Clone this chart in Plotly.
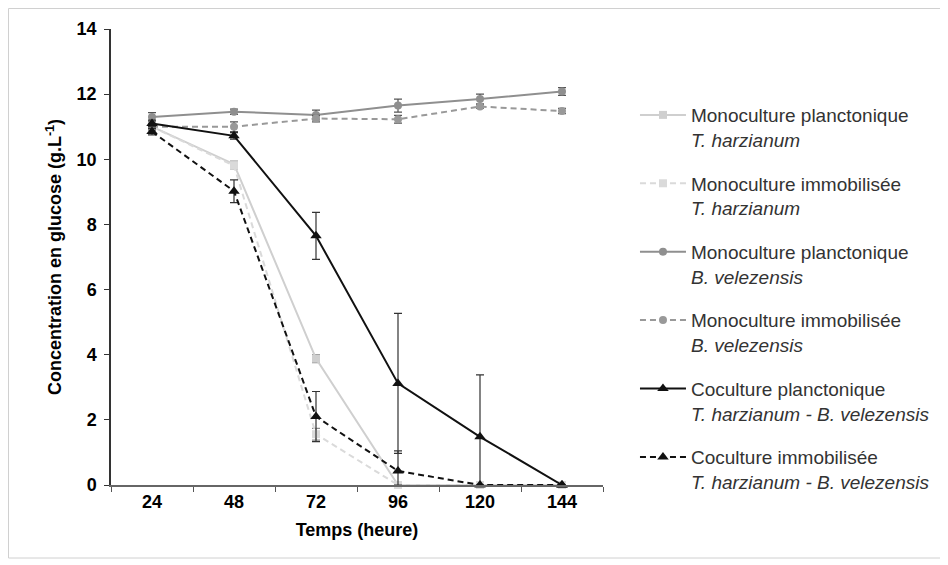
import numpy as np
import plotly.graph_objects as go

# === Données ===
temps = ["24", "48", "72", "96", "120", "144"]

mono_plancto_th = [11.0, 9.85, 3.88, 0.0, 0.0, 0.0]
mono_plancto_th_err = [0.1, 0.1, 0.12, 0.0, 0.0, 0.0]

mono_immob_th = [11.0, 9.8, 1.56, 0.0, 0.0, 0.0]
mono_immob_th_err = [0.1, 0.1, 0.18, 0.0, 0.0, 0.0]

mono_plancto_bv = [11.3, 11.46, 11.36, 11.65, 11.85, 12.08]
mono_plancto_bv_err = [0.13, 0.08, 0.15, 0.2, 0.15, 0.12]

mono_immob_bv = [11.0, 11.0, 11.25, 11.23, 11.62, 11.48]
mono_immob_bv_err = [0.1, 0.15, 0.1, 0.12, 0.06, 0.08]

cocult_plancto = [11.1, 10.72, 7.65, 3.12, 1.48, 0.0]
cocult_plancto_err = [0.1, 0.1, 0.72, 2.15, 1.9, 0.0]

cocult_immob = [10.85, 9.02, 2.1, 0.43, 0.0, 0.0]
cocult_immob_err = [0.1, 0.35, 0.77, 0.62, 0.0, 0.0]

series = [
	("Monoculture planctonique<br><i>T. harzianum</i>", mono_plancto_th, mono_plancto_th_err,
	 "#cfcfcf", "solid", "square", 8, "#8a8a8a"),
	("Monoculture immobilisée<br><i>T. harzianum</i>", mono_immob_th, mono_immob_th_err,
	 "#dadada", "6px,4px", "square", 8, "#8a8a8a"),
	("Monoculture planctonique<br><i>B. velezensis</i>", mono_plancto_bv, mono_plancto_bv_err,
	 "#8f8f8f", "solid", "circle", 8, "#555555"),
	("Monoculture immobilisée<br><i>B. velezensis</i>", mono_immob_bv, mono_immob_bv_err,
	 "#999999", "6px,4px", "circle", 8, "#555555"),
	("Coculture planctonique<br><i>T. harzianum - B. velezensis</i>", cocult_plancto, cocult_plancto_err,
	 "#111111", "solid", "triangle-up", 10, "#333333"),
	("Coculture immobilisée<br><i>T. harzianum - B. velezensis</i>", cocult_immob, cocult_immob_err,
	 "#111111", "6px,4px", "triangle-up", 10, "#333333"),
]

fig = go.Figure()

for i, (name, y, err, col, dash, sym, size, errcol) in enumerate(series):
	y = np.array(y)
	err = np.array(err)
	fig.add_trace(go.Scatter(
		x=temps, y=y, name=name, mode="lines+markers",
		legendgroup=f"g{i}",
		line=dict(color=col, width=2, dash=dash),
		marker=dict(color=col, symbol=sym, size=size),
		error_y=dict(type="data", symmetric=False, array=err,
					 arrayminus=np.minimum(err, y),
					 color=errcol, thickness=1.2, width=4),
		cliponaxis=False,
	))

# la page est décalée de 8px -> figure un peu plus petite
W, H = 940, 557
L, T, R, B = 103, 21, 345, 80
pw, ph = W - L - R, H - T - B

fig.update_layout(
	width=W, height=H,
	margin=dict(l=L, r=R, t=T, b=B),
	paper_bgcolor="white", plot_bgcolor="white",
	font=dict(family="Arial, Liberation Sans, sans-serif", color="#000000"),
	legend=dict(
		x=1.065, y=0.853, xanchor="left", yanchor="top",
		font=dict(size=19, color="#333333"),
		tracegroupgap=16, valign="top", itemwidth=46,
	),
	xaxis=dict(
		type="category", range=[-0.5, 5.5], tickson="boundaries",
		ticks="outside", ticklen=5, tickcolor="#555555",
		showline=True, linecolor="#666666", linewidth=1.5,
		showgrid=False, zeroline=False,
		tickfont=dict(size=18, weight="bold"),
		title=dict(text="<b>Temps (heure)</b>", font=dict(size=18), standoff=12),
	),
	yaxis=dict(
		range=[0, 14], dtick=2, ticks="outside", ticklen=5, tickcolor="#333333",
		showline=True, linecolor="#333333", linewidth=1.5,
		showgrid=False, zeroline=False, ticklabelstandoff=4,
		tickfont=dict(size=18, weight="bold"),
		title=dict(text="<b>Concentration en glucose (g.L<sup>-1</sup>)</b>", font=dict(size=18), standoff=10),
	),
	shapes=[dict(type="rect", xref="paper", yref="paper",
				 x0=(0.5 - L) / pw, x1=(933 - L) / pw,
				 y0=(H - B - 550) / ph, y1=(H - B - 0.5) / ph,
				 line=dict(color="#d0d0d0", width=1))],
)

fig.write_html("out.html")
